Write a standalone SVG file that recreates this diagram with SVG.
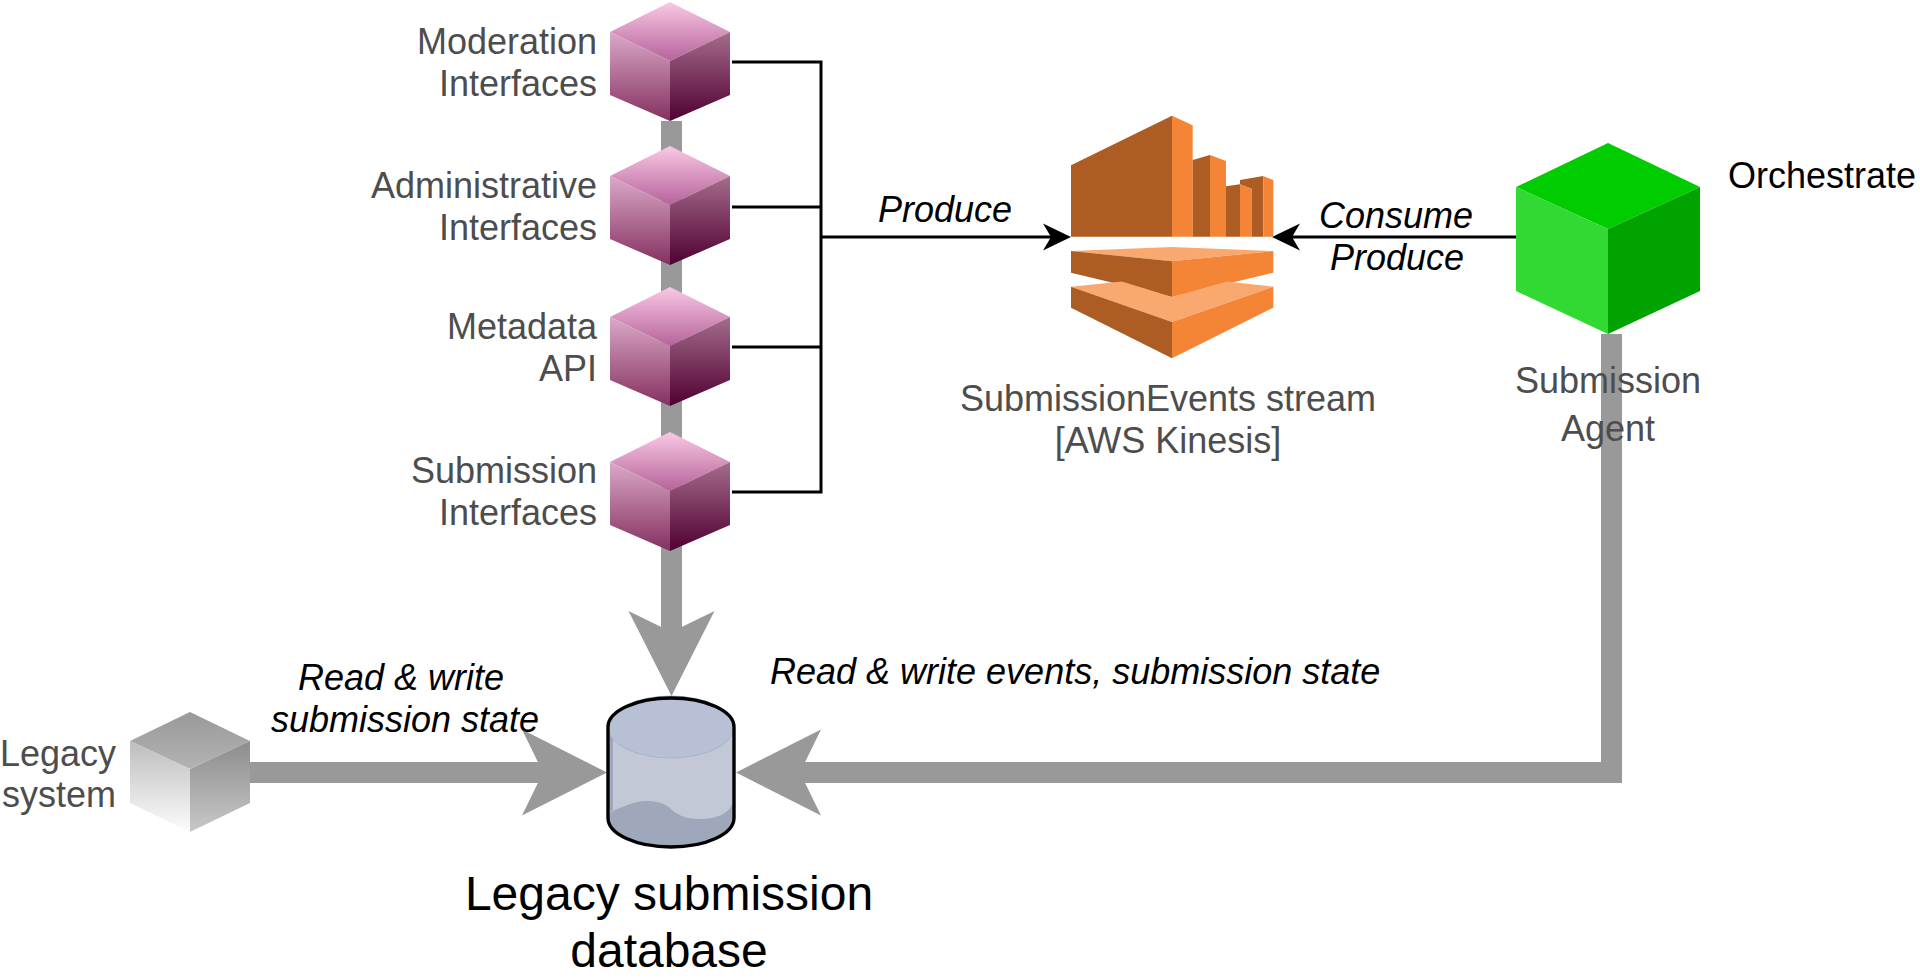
<svg xmlns="http://www.w3.org/2000/svg" xmlns:xlink="http://www.w3.org/1999/xlink" width="1920" height="978" viewBox="0 0 1920 978">
<style>
text{font-family:"Liberation Sans",Arial,sans-serif;font-size:36px}
.g{fill:#4d4d4d}
.k{fill:#000}
.i{fill:#000;font-style:italic}
.e{text-anchor:end}
.m{text-anchor:middle}
.big{font-size:48px}
.thin{fill:none;stroke:#000;stroke-width:3}
.fat{fill:none;stroke:#999;stroke-width:21}
.ds{fill:#AD5D24}
.ls{fill:#F58536}
.ps{fill:#F9A96F}
</style>
<defs>
<marker id="fatHead" markerUnits="userSpaceOnUse" markerWidth="90" markerHeight="90" viewBox="0 -45 90 90" refX="25" refY="0" orient="auto" overflow="visible"><path d="M0,-43 L85,0 L0,43 L21,0 Z" fill="#999"/></marker>
<marker id="thinHead" markerUnits="userSpaceOnUse" markerWidth="30" markerHeight="30" viewBox="0 -15 30 30" refX="10" refY="0" orient="auto" overflow="visible"><path d="M0,-13.5 L28,0 L0,13.5 L8,0 Z" fill="#000"/></marker>
<linearGradient id="pt" x1="0" y1="0" x2="0" y2="1"><stop offset="0" stop-color="#FAC8E4"/><stop offset="1" stop-color="#B5649A"/></linearGradient>
<linearGradient id="pl" x1="0" y1="0" x2="0" y2="1"><stop offset="0" stop-color="#DBA9C8"/><stop offset="1" stop-color="#84305F"/></linearGradient>
<linearGradient id="pr" x1="0" y1="0" x2="0" y2="1"><stop offset="0" stop-color="#A56C8D"/><stop offset="1" stop-color="#4F0030"/></linearGradient>
<linearGradient id="gt" x1="0" y1="0" x2="0" y2="1"><stop offset="0" stop-color="#999"/><stop offset="1" stop-color="#B3B3B3"/></linearGradient>
<linearGradient id="gl" x1="0" y1="0" x2="0" y2="1"><stop offset="0" stop-color="#BDBDBD"/><stop offset="1" stop-color="#FCFCFC"/></linearGradient>
<linearGradient id="gr" x1="0" y1="0" x2="0" y2="1"><stop offset="0" stop-color="#8C8C8C"/><stop offset="1" stop-color="#C8C8C8"/></linearGradient>
<g id="pinkCube">
<polygon points="0,-59 60,-29 0,0 -60,-29" fill="url(#pt)"/>
<polygon points="-60,-29 0,0 0,60 -60,34" fill="url(#pl)"/>
<polygon points="60,-29 0,0 0,60 60,34" fill="url(#pr)"/>
</g>
</defs>
<g id="connectors">
<path class="fat" d="M671.5,121 V636" marker-end="url(#fatHead)"/>
<path class="fat" d="M250,772.5 H547" marker-end="url(#fatHead)"/>
<path class="fat" d="M1611.5,334 V772.5 H796" marker-end="url(#fatHead)"/>
<path class="thin" d="M732,62 H821 V492 H732 M732,207 H821 M732,347 H821"/>
<path class="thin" d="M821,237 H1053" marker-end="url(#thinHead)"/>
<path class="thin" d="M1516,237 H1290" marker-end="url(#thinHead)"/>
</g>
<g id="moderation"><use href="#pinkCube" x="670" y="61"/><text class="g e" x="597" y="54">Moderation</text><text class="g e" x="597" y="96">Interfaces</text></g>
<g id="administrative"><use href="#pinkCube" x="670" y="205"/><text class="g e" x="597" y="198">Administrative</text><text class="g e" x="597" y="240">Interfaces</text></g>
<g id="metadata"><use href="#pinkCube" x="670" y="346"/><text class="g e" x="597" y="339">Metadata</text><text class="g e" x="597" y="381">API</text></g>
<g id="submission-interfaces"><use href="#pinkCube" x="670" y="491"/><text class="g e" x="597" y="483">Submission</text><text class="g e" x="597" y="525">Interfaces</text></g>
<g id="kinesis">
<polygon class="ds" points="1071,165.3 1172,115.7 1172,236.7 1071,236.7"/>
<polygon class="ls" points="1172,115.7 1192.7,125.3 1192.7,236.7 1172,236.7"/>
<polygon class="ds" points="1192.7,160 1210,155 1210,236.7 1192.7,236.7"/>
<polygon class="ls" points="1210,155 1226,161 1226,236.7 1210,236.7"/>
<polygon class="ds" points="1226,186.3 1240,184.3 1240,236.7 1226,236.7"/>
<polygon class="ls" points="1240,184.3 1251.7,188.7 1251.7,236.7 1240,236.7"/>
<polygon class="ds" points="1240,180 1263.3,176 1263.3,236.7 1251.7,236.7 1251.7,188.7 1240,184.3"/>
<polygon class="ls" points="1263.3,176 1273.3,180 1273.3,236.7 1263.3,236.7"/>
<polygon class="ps" points="1071,251 1172,247 1273.3,251 1172,261.3"/>
<polygon class="ds" points="1071,251 1172,261.3 1172,297 1071,272.7"/>
<polygon class="ls" points="1172,261.3 1273.3,251 1273.3,272.7 1172,297"/>
<polygon class="ps" points="1071,286.7 1122,281.5 1172,297 1227,281.5 1273.3,286.7 1172,322"/>
<polygon class="ds" points="1071,286.7 1172,322 1172,358.3 1071,307.7"/>
<polygon class="ls" points="1172,322 1273.3,286.7 1273.3,307.7 1172,358.3"/>
<text class="g m" x="1168" y="411">SubmissionEvents stream</text>
<text class="g m" x="1168" y="453">[AWS Kinesis]</text>
</g>
<g id="submission-agent">
<polygon points="1608,143 1700,187 1608,229 1516,187" fill="#00CC00"/>
<polygon points="1516,187 1608,229 1608,334 1516,291" fill="#33D933"/>
<polygon points="1700,187 1608,229 1608,334 1700,291" fill="#00A300"/>
<text class="g m" x="1608" y="393">Submission</text>
<text class="g m" x="1608" y="441">Agent</text>
<text class="k" x="1728" y="188">Orchestrate</text>
</g>
<g id="legacy-system">
<polygon points="190,712 250,741 190,769 130,741" fill="url(#gt)"/>
<polygon points="130,741 190,769 190,832 130,803" fill="url(#gl)"/>
<polygon points="250,741 190,769 190,832 250,803" fill="url(#gr)"/>
<text class="g e" x="116" y="766">Legacy</text>
<text class="g e" x="116" y="807">system</text>
</g>
<g id="database">
<path d="M608,727 V818 A63,29 0 0 0 734,818 V727 Z" fill="#C2C8D5"/>
<path d="M609,733 L613,738 V810 L609,812 Z" fill="#9FA7BA"/>
<path d="M610,812 C625,806 635,801 645,801 C658,801 665,803 672,810 C680,817 690,819 700,819 C715,819 728,815 733,803 V818 A62,28 0 0 1 609,818 Z" fill="#9FA7BA"/>
<ellipse cx="671" cy="727" rx="63" ry="31" fill="#B8C0D5" stroke="#A5AEC5" stroke-width="0.8"/>
<path d="M608,727 A63,29 0 0 1 734,727 V818 A63,29 0 0 1 608,818 Z" fill="none" stroke="#000" stroke-width="3.4"/>
<text class="k m big" x="669" y="910">Legacy submission</text>
<text class="k m big" x="669" y="967">database</text>
</g>
<g id="labels">
<text class="i m" x="945" y="222">Produce</text>
<text class="i m" x="1396" y="228">Consume</text>
<text class="i m" x="1397" y="270">Produce</text>
<text class="i" x="770" y="684">Read &amp; write events, submission state</text>
<text class="i m" x="401" y="690">Read &amp; write</text>
<text class="i m" x="405" y="732">submission state</text>
</g>
</svg>
